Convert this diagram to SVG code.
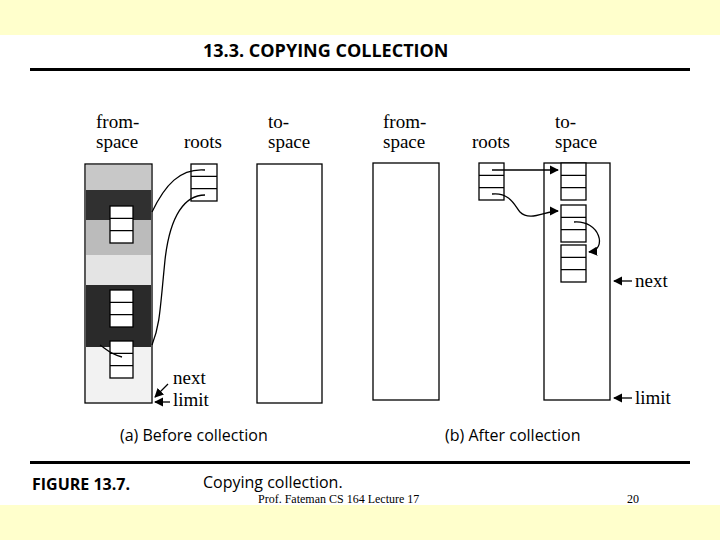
<svg xmlns="http://www.w3.org/2000/svg" width="720" height="540" viewBox="0 0 720 540">
<defs>
<marker id="ah" viewBox="0 0 10 10" refX="9" refY="5" markerWidth="7" markerHeight="7" orient="auto"><path d="M0,0 L10,5 L0,10 z" fill="#000"/></marker>
<style>
.t{font-family:"Liberation Serif",serif;font-size:19px;fill:#000}
.s{font-family:"Open Sans","DejaVu Sans",sans-serif;fill:#000}
.b{fill:#fff;stroke:#000;stroke-width:1.3}
.c{fill:none;stroke:#000;stroke-width:1.3}
</style>
</defs>
<rect width="720" height="540" fill="#ffffcc"/>
<rect x="0" y="35" width="720" height="470" fill="#fff"/>
<text class="s" x="203" y="57" font-size="18" font-weight="bold">13.3. COPYING COLLECTION</text>
<rect x="30" y="68" width="660" height="3" fill="#000"/>
<rect x="30" y="461" width="660" height="3" fill="#000"/>
<text class="s" x="32" y="490" font-size="16" font-weight="bold">FIGURE 13.7.</text>
<text class="s" x="203" y="488" font-size="16">Copying collection.</text>
<text x="258" y="503" font-family="Liberation Serif,serif" font-size="12">Prof. Fateman CS 164  Lecture 17</text>
<text x="627" y="503" font-family="Liberation Serif,serif" font-size="12">20</text>

<g id="before">
<g id="from-a">
<rect x="85" y="164" width="67" height="239" fill="#fff" stroke="#000" stroke-width="1.3"/>
<rect x="86" y="165" width="65" height="25" fill="#c8c8c8"/>
<rect x="86" y="190" width="65" height="30" fill="#303030"/>
<rect x="86" y="220" width="65" height="35" fill="#bbbbbb"/>
<rect x="86" y="255" width="65" height="30" fill="#e4e4e4"/>
<rect x="86" y="285" width="65" height="62" fill="#2a2a2a"/>
<rect x="86" y="347" width="65" height="55" fill="#f2f2f2"/>
<rect class="b" x="110" y="206" width="23" height="37"/><path class="c" d="M110,218.3h23M110,230.6h23"/>
<rect class="b" x="110" y="290" width="23" height="37"/><path class="c" d="M110,302.3h23M110,314.6h23"/>
<rect class="b" x="110" y="341" width="23" height="37"/><path class="c" d="M110,353.3h23M110,365.6h23"/>
</g>
<g id="roots-a"><rect class="b" x="191" y="164" width="26" height="37"/><path class="c" d="M191,176.3h26M191,188.6h26"/></g>
<g id="to-a"><rect class="b" x="257" y="164" width="65" height="239"/></g>
<text class="t" x="96" y="128">from-</text><text class="t" x="96" y="148">space</text>
<text class="t" x="184" y="148">roots</text>
<text class="t" x="268" y="128">to-</text><text class="t" x="268" y="148">space</text>
<text class="t" x="173" y="384">next</text><text class="t" x="173" y="406">limit</text>
<text class="s" x="120" y="441" font-size="16">(a) Before collection</text>
</g>

<g id="after">
<g id="from-b"><rect class="b" x="373" y="163" width="66" height="237"/></g>
<g id="roots-b"><rect class="b" x="479" y="163" width="25" height="37"/><path class="c" d="M479,175.3h25M479,187.6h25"/></g>
<g id="to-b">
<rect class="b" x="544" y="163" width="66" height="237"/>
<rect class="b" x="561" y="163" width="25" height="37"/><path class="c" d="M561,175.3h25M561,187.6h25"/>
<rect class="b" x="561" y="205" width="25" height="37"/><path class="c" d="M561,217.3h25M561,229.6h25"/>
<rect class="b" x="561" y="245" width="25" height="37"/><path class="c" d="M561,257.3h25M561,269.6h25"/>
</g>
<text class="t" x="383" y="128">from-</text><text class="t" x="383" y="148">space</text>
<text class="t" x="472" y="148">roots</text>
<text class="t" x="555" y="128">to-</text><text class="t" x="555" y="148">space</text>
<text class="t" x="635" y="287">next</text><text class="t" x="635" y="404">limit</text>
<text class="s" x="445" y="441" font-size="16">(b) After collection</text>
</g>

<g id="connectors">
<path class="c" d="M205,170 C180,168 165,185 152,212"/>
<path class="c" d="M205,195 C185,195 170,215 165,260 C160,310 160,325 152,345"/>
<path class="c" d="M122,357 C110,354 105,348 100,345"/>
<path class="c" marker-end="url(#ah)" d="M168,384 L155,397"/>
<path class="c" marker-end="url(#ah)" d="M170,402 L155,402"/>
<path class="c" marker-end="url(#ah)" d="M492,170 L558,170"/>
<path class="c" marker-end="url(#ah)" d="M492,194 C510,192 515,206 520,212 C530,222 545,211 558,211"/>
<path class="c" marker-end="url(#ah)" d="M574,222 C600,220 608,250 589,252"/>
<path class="c" marker-end="url(#ah)" d="M632,281 L614,281"/>
<path class="c" marker-end="url(#ah)" d="M632,398 L614,398"/>
</g>
</svg>
